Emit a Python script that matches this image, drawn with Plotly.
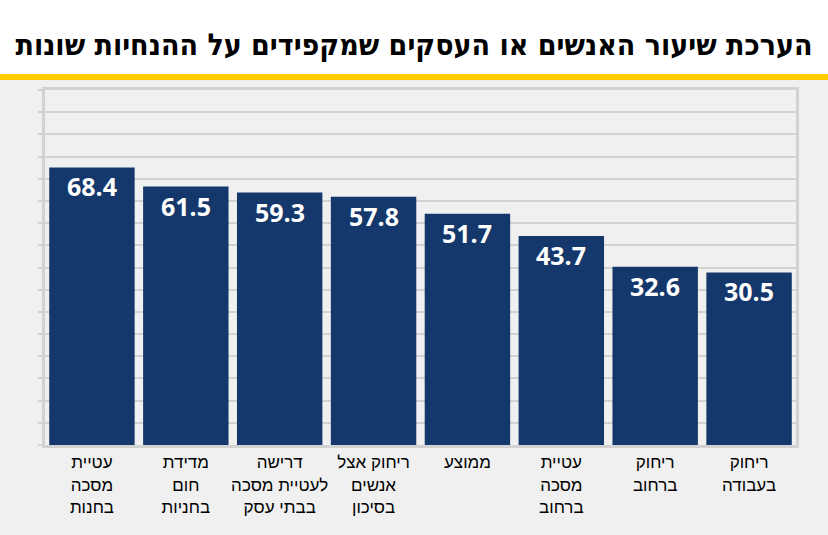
import plotly.graph_objects as go

categories = [
    "עטיית<br>מסכה<br>בחנות",
    "מדידת<br>חום<br>בחניות",
    "דרישה<br>לעטיית מסכה<br>בבתי עסק",
    "ריחוק אצל<br>אנשים<br>בסיכון",
    "ממוצע",
    "עטיית<br>מסכה<br>ברחוב",
    "ריחוק<br>ברחוב",
    "ריחוק<br>בעבודה",
]
values = [68.4, 61.5, 59.3, 57.8, 51.7, 43.7, 32.6, 30.5]
value_labels = ["68.4", "61.5", "59.3", "57.8", "51.7", "43.7", "32.6", "30.5"]
title_text = "הערכת שיעור האנשים או העסקים שמקפידים על ההנחיות שונות"

Y_MIN = -31.7
Y_MAX = 96.3
DTICK = 8.0

BAR_COLOR = "#14386b"
BG = "#f0f0f0"
GRID = "#d2d2d2"

fig = go.Figure()
fig.add_trace(go.Bar(
    x=categories,
    y=[v - Y_MIN for v in values],
    base=Y_MIN,
    marker=dict(color=BAR_COLOR, line=dict(width=0)),
    hovertext=value_labels,
    hoverinfo="text+x",
))

for c, v, t in zip(categories, values, value_labels):
    fig.add_annotation(
        x=c, y=v, xref="x", yref="y", text="<b>%s</b>" % t,
        showarrow=False, yanchor="top", yshift=0,
        font=dict(family="Open Sans", size=25, color="white"),
    )

H = 535
t_m, b_m = 90, 90
plot_h = H - t_m - b_m

def py(pix):
    return 1 + (t_m - pix) / plot_h

fig.add_shape(type="rect", xref="paper", yref="paper", x0=-0.2, x1=1.2,
              y0=py(74), y1=py(0) + 0.05, fillcolor="white", line=dict(width=0), layer="below")
fig.add_shape(type="rect", xref="paper", yref="paper", x0=-0.2, x1=1.2,
              y0=py(80), y1=py(74), fillcolor="#ffcc00", line=dict(width=0), layer="below")

fig.update_layout(
    width=828, height=H,
    margin=dict(l=45, r=32, t=t_m, b=b_m),
    paper_bgcolor=BG, plot_bgcolor=BG,
    bargap=0.09,
    showlegend=False,
    title=dict(text="<b>%s</b>" % title_text, x=0.5, xanchor="center",
               y=1 - 44 / H, yanchor="middle",
               font=dict(family="DejaVu Sans Condensed", size=30, color="black")),
    xaxis=dict(showline=True, mirror=True, linecolor=GRID, linewidth=3,
               tickfont=dict(family="Liberation Sans", size=17, color="black"),
               ticks="", showgrid=False),
    yaxis=dict(range=[Y_MIN, Y_MAX], tick0=Y_MIN, dtick=DTICK, tickmode="linear",
               showticklabels=False, showgrid=True, gridcolor=GRID, gridwidth=2,
               showline=True, mirror=True, linecolor=GRID, linewidth=3,
               ticks="outside", ticklen=4, tickcolor=GRID, tickwidth=2,
               zeroline=False),
)

fig.write_html("out.html", config={"displayModeBar": False},
               post_script="document.body.style.margin='0';document.body.style.padding='0';")
